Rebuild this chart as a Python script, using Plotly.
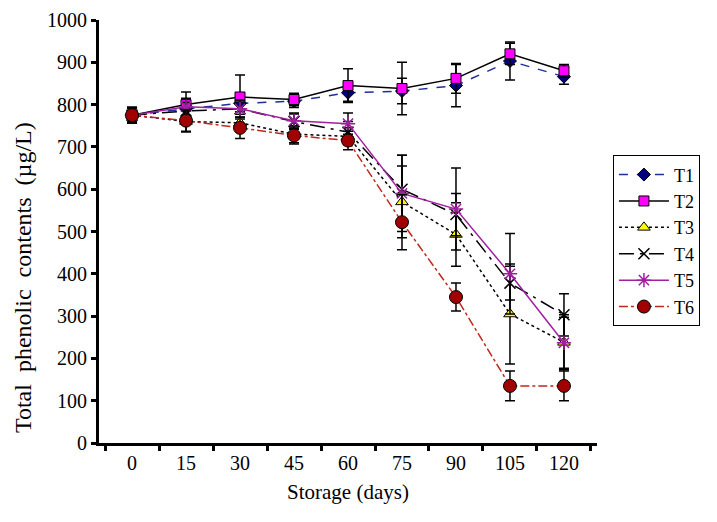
import plotly.graph_objects as go

days = ["0", "15", "30", "45", "60", "75", "90", "105", "120"]

t1 = [775, 790, 803, 808, 828, 832, 845, 903, 866]
t2 = [775, 800, 818, 812, 845, 838, 862, 920, 880]
t3 = [775, 760, 757, 730, 725, 570, 493, 305, 238]
t4 = [775, 785, 790, 760, 735, 600, 540, 378, 303]
t5 = [775, 795, 790, 762, 755, 590, 553, 400, 237]
t6 = [775, 762, 745, 727, 715, 522, 345, 135, 135]

e1 = [15, 20, 20, 15, 20, 30, 50, 45, 18]
e2 = [18, 30, 52, 15, 40, 62, 35, 25, 15]
e3 = [18, 25, 20, 20, 20, 85, 75, 118, 65]
e4 = [18, 20, 20, 18, 25, 80, 50, 40, 50]
e5 = [18, 20, 20, 18, 25, 90, 97, 95, 60]
e6 = [18, 25, 25, 20, 22, 65, 33, 35, 35]

y_title = "Total  phenolic  contents  (µg/L)"
x_title = "Storage (days)"

series = [
    ("T1", t1, e1, dict(color="#1f2f9a", width=1.5, dash="dash"),
     dict(symbol="diamond", color="#000080", size=10, line=dict(color="black", width=1))),
    ("T2", t2, e2, dict(color="black", width=1.5, dash="solid"),
     dict(symbol="square", color="#ff00ff", size=10, line=dict(color="black", width=1))),
    ("T3", t3, e3, dict(color="black", width=1.5, dash="dot"),
     dict(symbol="triangle-up", color="#ffff00", size=11, line=dict(color="black", width=1))),
    ("T4", t4, e4, dict(color="black", width=1.5, dash="longdashdot"),
     dict(symbol="x-thin", color="black", size=11, line=dict(color="black", width=1.5))),
    ("T5", t5, e5, dict(color="#a020a0", width=1.5, dash="solid"),
     dict(symbol="asterisk", color="#a020a0", size=12, line=dict(color="#a020a0", width=1.5))),
    ("T6", t6, e6, dict(color="#c0281e", width=1.5, dash="dashdot"),
     dict(symbol="circle", color="#a00000", size=13, line=dict(color="black", width=1))),
]

fig = go.Figure()
for name, vals, errs, line, marker in series:
    fig.add_trace(go.Scatter(
        x=days, y=vals, name=name, mode="lines+markers",
        line=line, marker=marker,
        error_y=dict(type="data", array=errs, visible=True,
                     color="black", thickness=1.5, width=5),
    ))

fig.add_annotation(
    text=y_title, textangle=-90, showarrow=False,
    xref="paper", yref="paper", x=0, y=0.39, xanchor="center", yanchor="middle",
    xshift=-76, font=dict(size=24, family="Liberation Serif", color="black"),
)

fig.update_layout(
    width=717, height=522,
    margin=dict(l=91, r=128, t=12, b=87),
    plot_bgcolor="white", paper_bgcolor="white",
    font=dict(family="Liberation Serif", size=20, color="black"),
    showlegend=True,
    legend=dict(x=1.032, y=0.68, xanchor="left", yanchor="top",
                bordercolor="black", borderwidth=1, bgcolor="white",
                font=dict(size=18), tracegroupgap=0, itemwidth=50),
    xaxis=dict(type="category", tickson="boundaries", ticks="outside",
               ticklen=5, tickwidth=2.5, tickcolor="black",
               showline=True, linecolor="black", linewidth=3,
               showgrid=False, zeroline=False, automargin=False,
               ticklabeloverflow="allow",
               title=dict(text=x_title, font=dict(size=21), standoff=12),
               tickfont=dict(size=20)),
    yaxis=dict(range=[0, 1000], dtick=100, ticks="outside",
               ticklen=5, tickwidth=2.5, tickcolor="black",
               showline=True, linecolor="black", linewidth=3,
               showgrid=False, zeroline=False, automargin=False,
               ticklabeloverflow="allow",
               tickfont=dict(size=20)),
)

fig.write_html("out.html")
